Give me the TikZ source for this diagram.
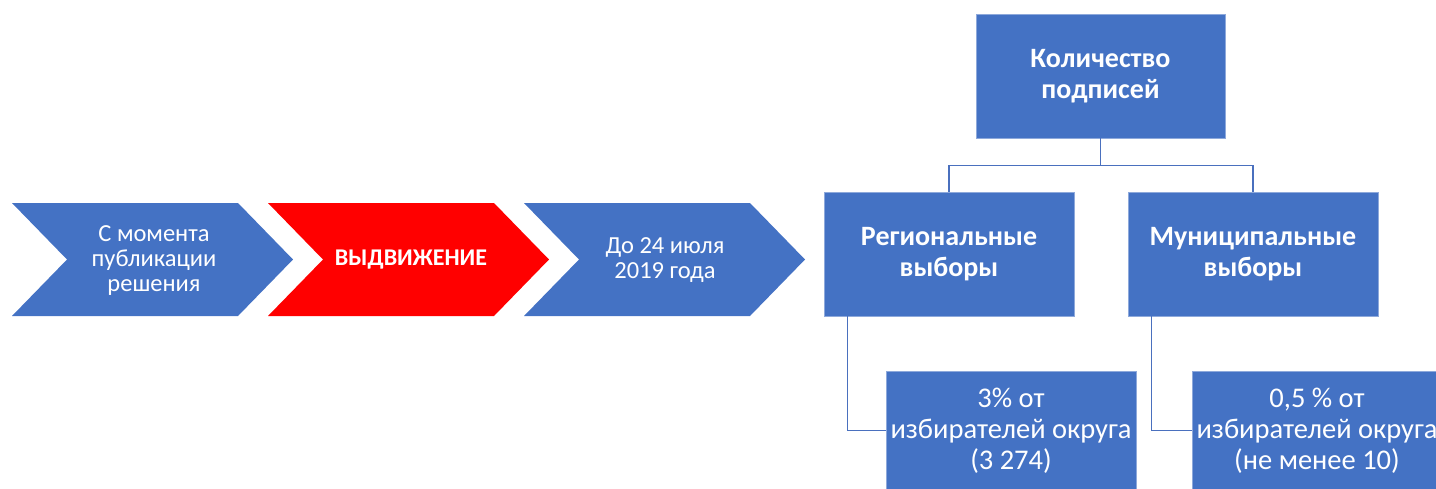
\documentclass[tikz,border=0pt]{standalone}
\usepackage{fontspec}
\setmainfont{Carlito}
\definecolor{blu}{HTML}{4472C4}
\definecolor{rd}{HTML}{FF0000}
\definecolor{edgec}{HTML}{8EA9DB}
\definecolor{connc}{HTML}{4A70BE}
\begin{document}
\begin{tikzpicture}[x=1pt,y=-1pt,
  chev/.style={draw=none},
  chevtext/.style={text=white,align=center,font=\fontsize{24.5}{25}\selectfont,inner sep=0pt},
  box/.style={fill=blu,draw=edgec,line width=0.8pt,text=white,align=center,inner sep=0pt,minimum width=249pt,minimum height=124pt},
  titlefont/.style={font=\bfseries\fontsize{28}{30.5}\selectfont},
  lowfont/.style={font=\fontsize{28.5}{31}\selectfont,minimum height=119pt},
  conn/.style={draw=connc,line width=1.4pt}]
\useasboundingbox (0,0) rectangle (1436,488);
\clip (0,0) rectangle (1436,488);
% chevrons
\fill[chev,blu] (12,203) -- (238,203) -- (293,259.5) -- (238,316) -- (12,316) -- (67,259.5) -- cycle;
\fill[chev,rd] (268,203) -- (494,203) -- (549,259.5) -- (494,316) -- (268,316) -- (323,259.5) -- cycle;
\fill[chev,blu] (524,203) -- (750,203) -- (805,259.5) -- (750,316) -- (524,316) -- (579,259.5) -- cycle;
\node[chevtext] (c1) at (154,261) {С момента\\публикации\\решения};
\node[chevtext,font=\bfseries\fontsize{24}{25}\selectfont] (c2) at (411,260) {ВЫДВИЖЕНИЕ};
\node[chevtext] (c3) at (665,260) {До 24 июля\\2019 года};
% boxes
\node[box,titlefont] (top) at (1100.5,76) {Количество\\подписей};
\node[box,titlefont,minimum width=250pt] (reg) at (949,254) {Региональные\\выборы};
\node[box,titlefont,minimum width=250pt] (mun) at (1253,254) {Муниципальные\\выборы};
\node[box,lowfont,minimum width=250pt] (p1) at (1011,430.5) {3\% от\\избирателей округа\\(3 274)};
\node[box,lowfont,minimum width=250pt] (p2) at (1317,430.5) {0,5 \% от\\избирателей округа\\(не менее 10)};
% connectors
\draw[conn] (top.south) -- ++(0,27) -| (reg.north);
\draw[conn] (top.south) -- ++(0,27) -| (mun.north);
\draw[conn] ([xshift=24pt]reg.south west) |- (p1.west);
\draw[conn] ([xshift=24pt]mun.south west) |- (p2.west);
\end{tikzpicture}
\end{document}
